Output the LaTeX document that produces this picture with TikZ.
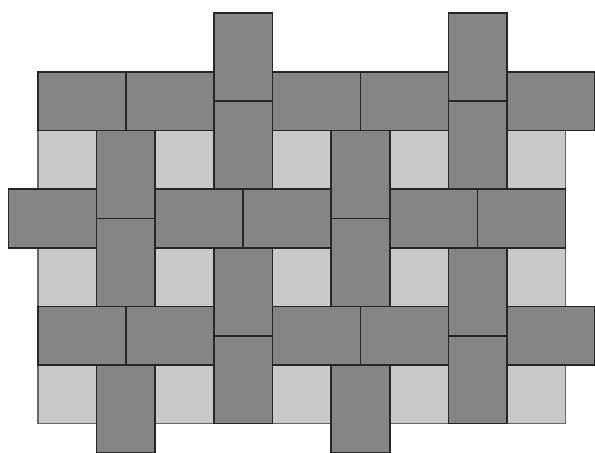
\documentclass[tikz,border=0pt]{standalone}
\begin{document}
\begin{tikzpicture}[x=1cm,y=-1cm,
  brick/.style={fill=black!48,draw=black!85,line width=0.8pt},
  tile/.style={fill=black!21,draw=black!60,line width=0.8pt}]
\useasboundingbox (-0.6426,-1.2221) rectangle (9.5,6.4991);
% light squares
\foreach \r in {1,3,5}{
  \foreach \c in {0,2,4,6,8}{
    \draw[tile] (\c,\r) rectangle ++(1,1);
  }
}
% horizontal bricks, rows 0 and 4
\foreach \r in {0,4}{
  \foreach \a in {0,1.5,4,5.5,8}{
    \draw[brick] (\a,\r) rectangle ++(1.5,1);
  }
}
% horizontal bricks, row 2
\foreach \a in {-0.5,2,3.5,6,7.5}{
  \draw[brick] (\a,2) rectangle ++(1.5,1);
}
% vertical bricks
\foreach \c/\s in {3/-1,3/0.5,7/-1,7/0.5,3/3,3/4.5,7/3,7/4.5,
                   1/1,1/2.5,5/1,5/2.5,1/5,5/5}{
  \draw[brick] (\c,\s) rectangle ++(1,1.5);
}
\end{tikzpicture}
\end{document}
